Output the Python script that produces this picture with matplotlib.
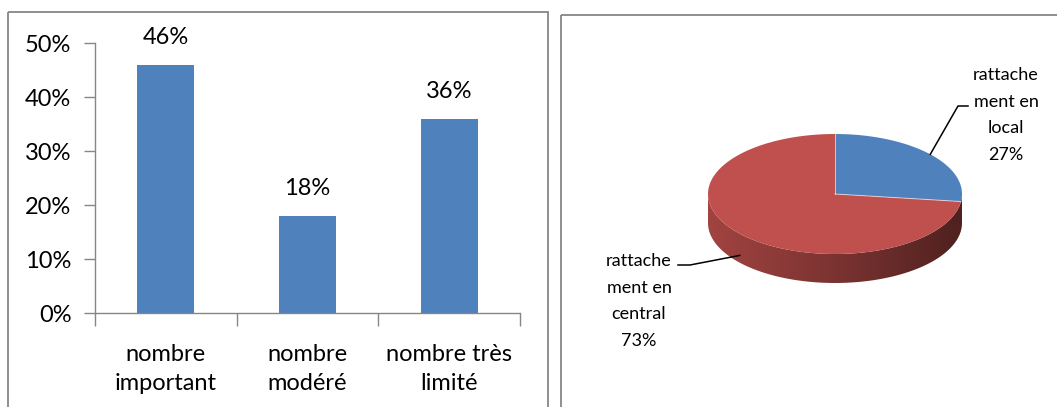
import numpy as np
import matplotlib
matplotlib.use("Agg")
import matplotlib.pyplot as plt
from matplotlib.patches import Polygon, Rectangle
from matplotlib.colors import LinearSegmentedColormap, to_rgb

plt.rcParams['font.family'] = ['Lato', 'DejaVu Sans']

# ---- data -------------------------------------------------------------
categories = ['nombre\nimportant', 'nombre\nmodéré', 'nombre très\nlimité']
shares = [46, 18, 36]
y_ticks = [0, 10, 20, 30, 40, 50]

pie_labels = ['rattache\nment en\nlocal', 'rattache\nment en\ncentral']
pie_values = [27, 73]
pie_colors = ['#4F81BD', '#C0504D']

# ---- figure -----------------------------------------------------------
W, H = 1057, 407
fig = plt.figure(figsize=(W / 100, H / 100), dpi=100)
fig.patch.set_facecolor('white')

# overlay in pixel units for the frames and the 3-D pie
ov = fig.add_axes([0, 0, 1, 1])
ov.set_xlim(0, W)
ov.set_ylim(H, 0)
ov.axis('off')

frame_col = '#868686'
ov.add_patch(Rectangle((8, 12), 540, 430, fill=False, ec=frame_col, lw=1.3, clip_on=False))
ov.add_patch(Rectangle((561, 15), 540, 430, fill=False, ec=frame_col, lw=1.3, clip_on=False))

# ---- bar chart --------------------------------------------------------
ax = fig.add_axes([95 / W, 1 - 313 / H, 425 / W, 270 / H])
x = np.arange(len(categories))
ax.bar(x, shares, width=0.4, color='#4F81BD', zorder=2)
ax.set_xlim(-0.5, len(categories) - 0.5)
ax.set_ylim(0, 50)
ax.set_yticks(y_ticks)
ax.set_yticklabels([f'{v}%' for v in y_ticks], fontsize=17)
ax.set_xticks(x)
ax.set_xticklabels(categories, fontsize=17, linespacing=1.5)
ax.set_xticks(np.arange(-0.5, len(categories), 1), minor=True)
ax.tick_params(axis='x', which='major', length=0, pad=22)
ax.tick_params(axis='x', which='minor', length=9, width=1, color=frame_col)
ax.tick_params(axis='y', length=8, width=1, color=frame_col, pad=9)
for s in ('top', 'right'):
    ax.spines[s].set_visible(False)
for s in ('left', 'bottom'):
    ax.spines[s].set_color(frame_col)
    ax.spines[s].set_linewidth(1)
ax.set_facecolor('none')

for xi, v in zip(x, shares):
    ax.annotate(f'{v}%', (xi, v), xytext=(0, 15), textcoords='offset points',
                ha='center', va='baseline', fontsize=17)

# ---- 3-D pie ----------------------------------------------------------
cx, cy = 835, 194
ra, rb = 127, 60
depth = 29


def ell(t):
    t = np.radians(t)
    return cx + ra * np.cos(t), cy - rb * np.sin(t)


def side_polygon(t_hi, t_lo):
    t = np.linspace(t_hi, t_lo, 200)
    xs, ys = ell(t)
    top = np.column_stack([xs, ys])
    bot = np.column_stack([xs[::-1], ys[::-1] + depth])
    return np.vstack([top, bot])


total = float(sum(pie_values))
start = 90.0
bounds = []
cum = 0.0
for v in pie_values:
    t1 = start - cum / total * 360
    cum += v
    t2 = start - cum / total * 360
    bounds.append((t1, t2))

grad = np.linspace(0, 1, 256).reshape(1, -1)
for (t1, t2), col in zip(bounds, pie_colors):
    base = np.array(to_rgb(col))
    cmap = LinearSegmentedColormap.from_list(
        'side', [base * 0.84, base * 0.64, base * 0.41])
    # front (visible) part of the slice wall
    for k in (-360, 0, 360):
        hi = min(t1, 0 + k)
        lo = max(t2, -180 + k)
        if hi > lo:
            poly = Polygon(side_polygon(hi, lo), closed=True, fc='none', ec='none')
            ov.add_patch(poly)
            im = ov.imshow(grad, cmap=cmap, aspect='auto',
                           extent=(cx - ra, cx + ra, cy + rb + depth + 2, cy - rb),
                           zorder=2)
            im.set_clip_path(poly)

for (t1, t2), col in zip(bounds, pie_colors):
    t = np.linspace(t1, t2, 300)
    xs, ys = ell(t)
    pts = np.vstack([[cx, cy], np.column_stack([xs, ys])])
    ov.add_patch(Polygon(pts, closed=True, fc=col, ec='none', zorder=3))

for t1, _ in bounds:
    ex, ey = ell(t1)
    ov.plot([cx, ex], [cy, ey], color='white', lw=0.7, alpha=0.6, zorder=4)

ov.set_xlim(0, W)
ov.set_ylim(H, 0)

# labels with leader lines
mid = [(t1 + t2) / 2 for t1, t2 in bounds]
lx, ly = ell(mid[0])
ov.plot([lx, 958, 968], [ly, 106, 106], color='black', lw=1.1, zorder=5)
ov.text(1006, 115, f'{pie_labels[0]}\n{pie_values[0]}%', ha='center', va='center',
        fontsize=13, linespacing=1.8, zorder=5)

mx, my = ell(mid[1])
ov.plot([mx, 690, 678], [my + depth * 0.75, 265, 265], color='black', lw=1.1, zorder=5)
ov.text(639, 301, f'{pie_labels[1]}\n{pie_values[1]}%', ha='center', va='center',
        fontsize=13, linespacing=1.8, zorder=5)

fig.savefig('out.png', dpi=100)
